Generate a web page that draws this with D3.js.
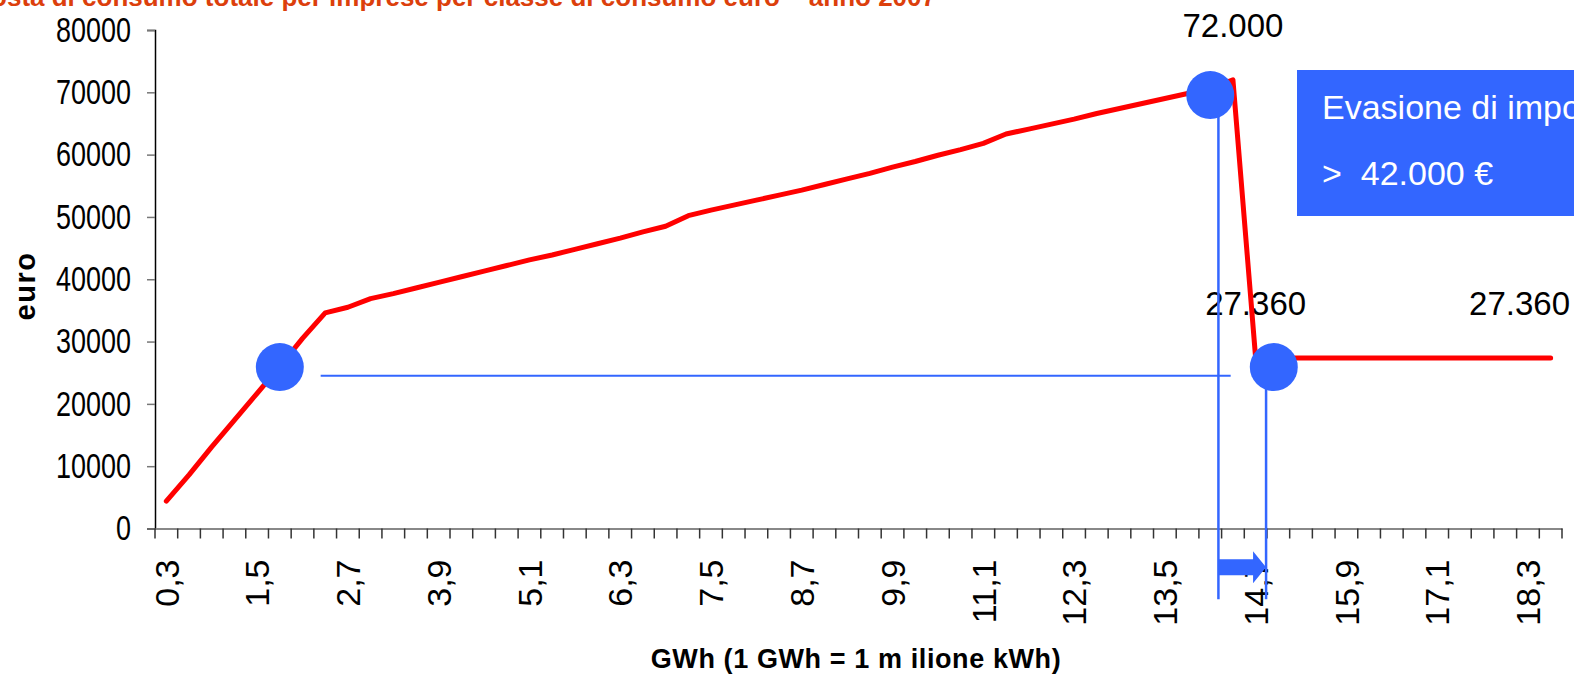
<!DOCTYPE html>
<html>
<head>
<meta charset="utf-8">
<script src="https://cdn.jsdelivr.net/npm/d3@7"></script>
<style>
body{margin:0;background:#fff}
svg{display:block}
</style>
</head>
<body>
<div id="chart"></div>
<script>
// categories (GWh), one every 0,3
const categories=["0,3","0,6","0,9","1,2","1,5","1,8","2,1","2,4","2,7","3,0",
"3,3","3,6","3,9","4,2","4,5","4,8","5,1","5,4","5,7","6,0",
"6,3","6,6","6,9","7,2","7,5","7,8","8,1","8,4","8,7","9,0",
"9,3","9,6","9,9","10,2","10,5","10,8","11,1","11,4","11,7","12,0",
"12,3","12,6","12,9","13,2","13,5","13,8","14,1","14,4","14,7","15,0",
"15,3","15,6","15,9","16,2","16,5","16,8","17,1","17,4","17,7","18,0",
"18,3","18,6"]

// euro per category
const values=[4400,8600,13100,17400,21700,26000,30500,34600,35500,36900,
37700,38600,39500,40400,41300,42200,43100,43900,44800,45700,
46600,47600,48500,50200,51100,51900,52700,53500,54300,55200,
56100,57000,58000,58900,59900,60800,61800,63300,64100,64900,
65700,66600,67400,68200,69000,69800,70600,72000,27360,27360,
27360,27360,27360,27360,27360,27360,27360,27360,27360,27360,
27360,27360]

const yTicks=[0,10000,20000,30000,40000,50000,60000,70000,80000]

// value labels (category index, text)
const valueLabels=[{i:47,text:"72.000"},{i:48,text:"27.360"},{i:61,text:"27.360"}]

// annotation shapes, in category index / euro
const circles=[{i:5,v:25900},{i:46,v:69550},{i:48.8,v:25900}]
const hLine={i0:6.8,i1:46.9,v:24500}
const vLines=[{i:46.36,v0:69550,v1:-11350},{i:48.46,v0:25900,v1:-11350}]
const arrow={i0:46.36,i1:48.46,v:-6200}

const titleText="Imposta di consumo totale per imprese per classe di consumo euro \u2013 anno 2007"
const boxLines=["Evasione di imposta",">  42.000 \u20ac"]

const width=1574
const height=674
const blue="#3366ff"
const font="Liberation Sans, Arial, sans-serif"

const svg=d3.select("#chart")
.append("svg")
.attr("width",width)
.attr("height",height)

const plotLeft=155, plotRight=1562, plotTop=30, plotBottom=528.5

// category band axis and an index scale for the points
const xBand=d3.scaleBand()
.domain(categories)
.range([plotLeft,plotRight])
.padding(0)

const xi=d3.scaleLinear()
.domain([-0.5,categories.length-0.5])
.range([plotLeft,plotRight])

const y=d3.scaleLinear()
.domain([0,80000])
.range([plotBottom,plotTop])

// title (cut off at top)
svg.append("text")
.attr("x",936)
.attr("y",6)
.attr("text-anchor","end")
.attr("fill","#dc3f0c")
.style("font-family",font)
.style("font-weight","bold")
.style("font-size","26px")
.text(titleText)

// Y axis
const yAxis=svg.append("g")
.attr("transform",`translate(${plotLeft},0)`)
.call(d3.axisLeft(y).tickValues(yTicks).tickSize(8).tickPadding(16).tickFormat(d3.format("d")))
yAxis.select(".domain").attr("stroke","#000").attr("stroke-width",1.5)
yAxis.selectAll(".tick line").attr("stroke","#777").attr("stroke-width",1.5)
yAxis.selectAll("text")
.style("font-family",font)
.style("font-size","35px")
.attr("fill","#000")
.attr("textLength",d=>String(d).length*15)
.attr("lengthAdjust","spacingAndGlyphs")

// X axis labels every 4th category
const xAxis=svg.append("g")
.attr("transform",`translate(0,${plotBottom})`)
.call(d3.axisBottom(xBand).tickValues(categories.filter((c,i)=>i%4===0)).tickSize(0))
xAxis.select(".domain").attr("stroke","#888").attr("stroke-width",2)
xAxis.selectAll("text")
.attr("transform","rotate(-90)")
.attr("text-anchor","end")
.attr("x",-31)
.attr("y",0)
.attr("dy","0.36em")
.attr("fill","#000")
.style("font-family",font)
.style("font-size","34px")

// tick marks between categories
svg.append("g")
.selectAll("line")
.data(categories.concat(["end"]))
.join("line")
.attr("x1",(d,i)=>xi(i-0.5))
.attr("x2",(d,i)=>xi(i-0.5))
.attr("y1",plotBottom)
.attr("y2",plotBottom+10)
.attr("stroke","#333")
.attr("stroke-width",1.5)

// axis titles
svg.append("text")
.attr("transform","rotate(-90)")
.attr("x",-286)
.attr("y",35)
.attr("text-anchor","middle")
.style("font-family",font)
.style("font-weight","bold")
.style("font-size","29px")
.style("letter-spacing","1.5px")
.text("euro")

svg.append("text")
.attr("x",856)
.attr("y",668)
.attr("text-anchor","middle")
.style("font-family",font)
.style("font-weight","bold")
.style("font-size","27px")
.style("letter-spacing","0.6px")
.text("GWh (1 GWh = 1 m ilione kWh)")

// value labels
svg.append("g")
.selectAll("text")
.data(valueLabels)
.join("text")
.attr("x",d=>xi(d.i))
.attr("y",d=>y(values[d.i])-43)
.attr("text-anchor","middle")
.style("font-family",font)
.style("font-size","33px")
.text(d=>d.text)
.each(function(){
  // keep inside the chart like the spreadsheet does
  const w=this.getComputedTextLength()
  const x=+d3.select(this).attr("x")
  if(x+w/2>1570) d3.select(this).attr("x",1570-w/2)
})

// red line
const line=d3.line()
.x((d,i)=>xi(i))
.y(d=>y(d))

svg.append("path")
.datum(values)
.attr("d",line)
.attr("fill","none")
.attr("stroke","#ff0000")
.attr("stroke-width",5)
.attr("stroke-linejoin","round")
.attr("stroke-linecap","round")

// blue guide lines
svg.append("line")
.attr("x1",xi(hLine.i0))
.attr("x2",xi(hLine.i1))
.attr("y1",y(hLine.v))
.attr("y2",y(hLine.v))
.attr("stroke",blue)
.attr("stroke-width",2)

svg.append("g")
.selectAll("line")
.data(vLines)
.join("line")
.attr("x1",d=>xi(d.i))
.attr("x2",d=>xi(d.i))
.attr("y1",d=>y(d.v0))
.attr("y2",d=>y(d.v1))
.attr("stroke",blue)
.attr("stroke-width",2.5)

// circles
svg.append("g")
.selectAll("circle")
.data(circles)
.join("circle")
.attr("cx",d=>xi(d.i))
.attr("cy",d=>y(d.v))
.attr("r",24)
.attr("fill",blue)

// block arrow
const ax0=xi(arrow.i0), ax1=xi(arrow.i1), ay=y(arrow.v)
svg.append("path")
.attr("d",`M${ax0},${ay-8}H${ax1-13}V${ay-16}L${ax1},${ay}L${ax1-13},${ay+16}V${ay+8}H${ax0}Z`)
.attr("fill",blue)

// box
svg.append("rect")
.attr("x",1297)
.attr("y",70)
.attr("width",300)
.attr("height",146)
.attr("fill",blue)

svg.append("g")
.selectAll("text")
.data(boxLines)
.join("text")
.attr("transform",(d,i)=>`translate(1322,${119+i*66})`)
.attr("fill","#fff")
.style("font-family",font)
.style("font-size","34px")
.style("white-space","pre")
.text(d=>d)
</script>
</body>
</html>
